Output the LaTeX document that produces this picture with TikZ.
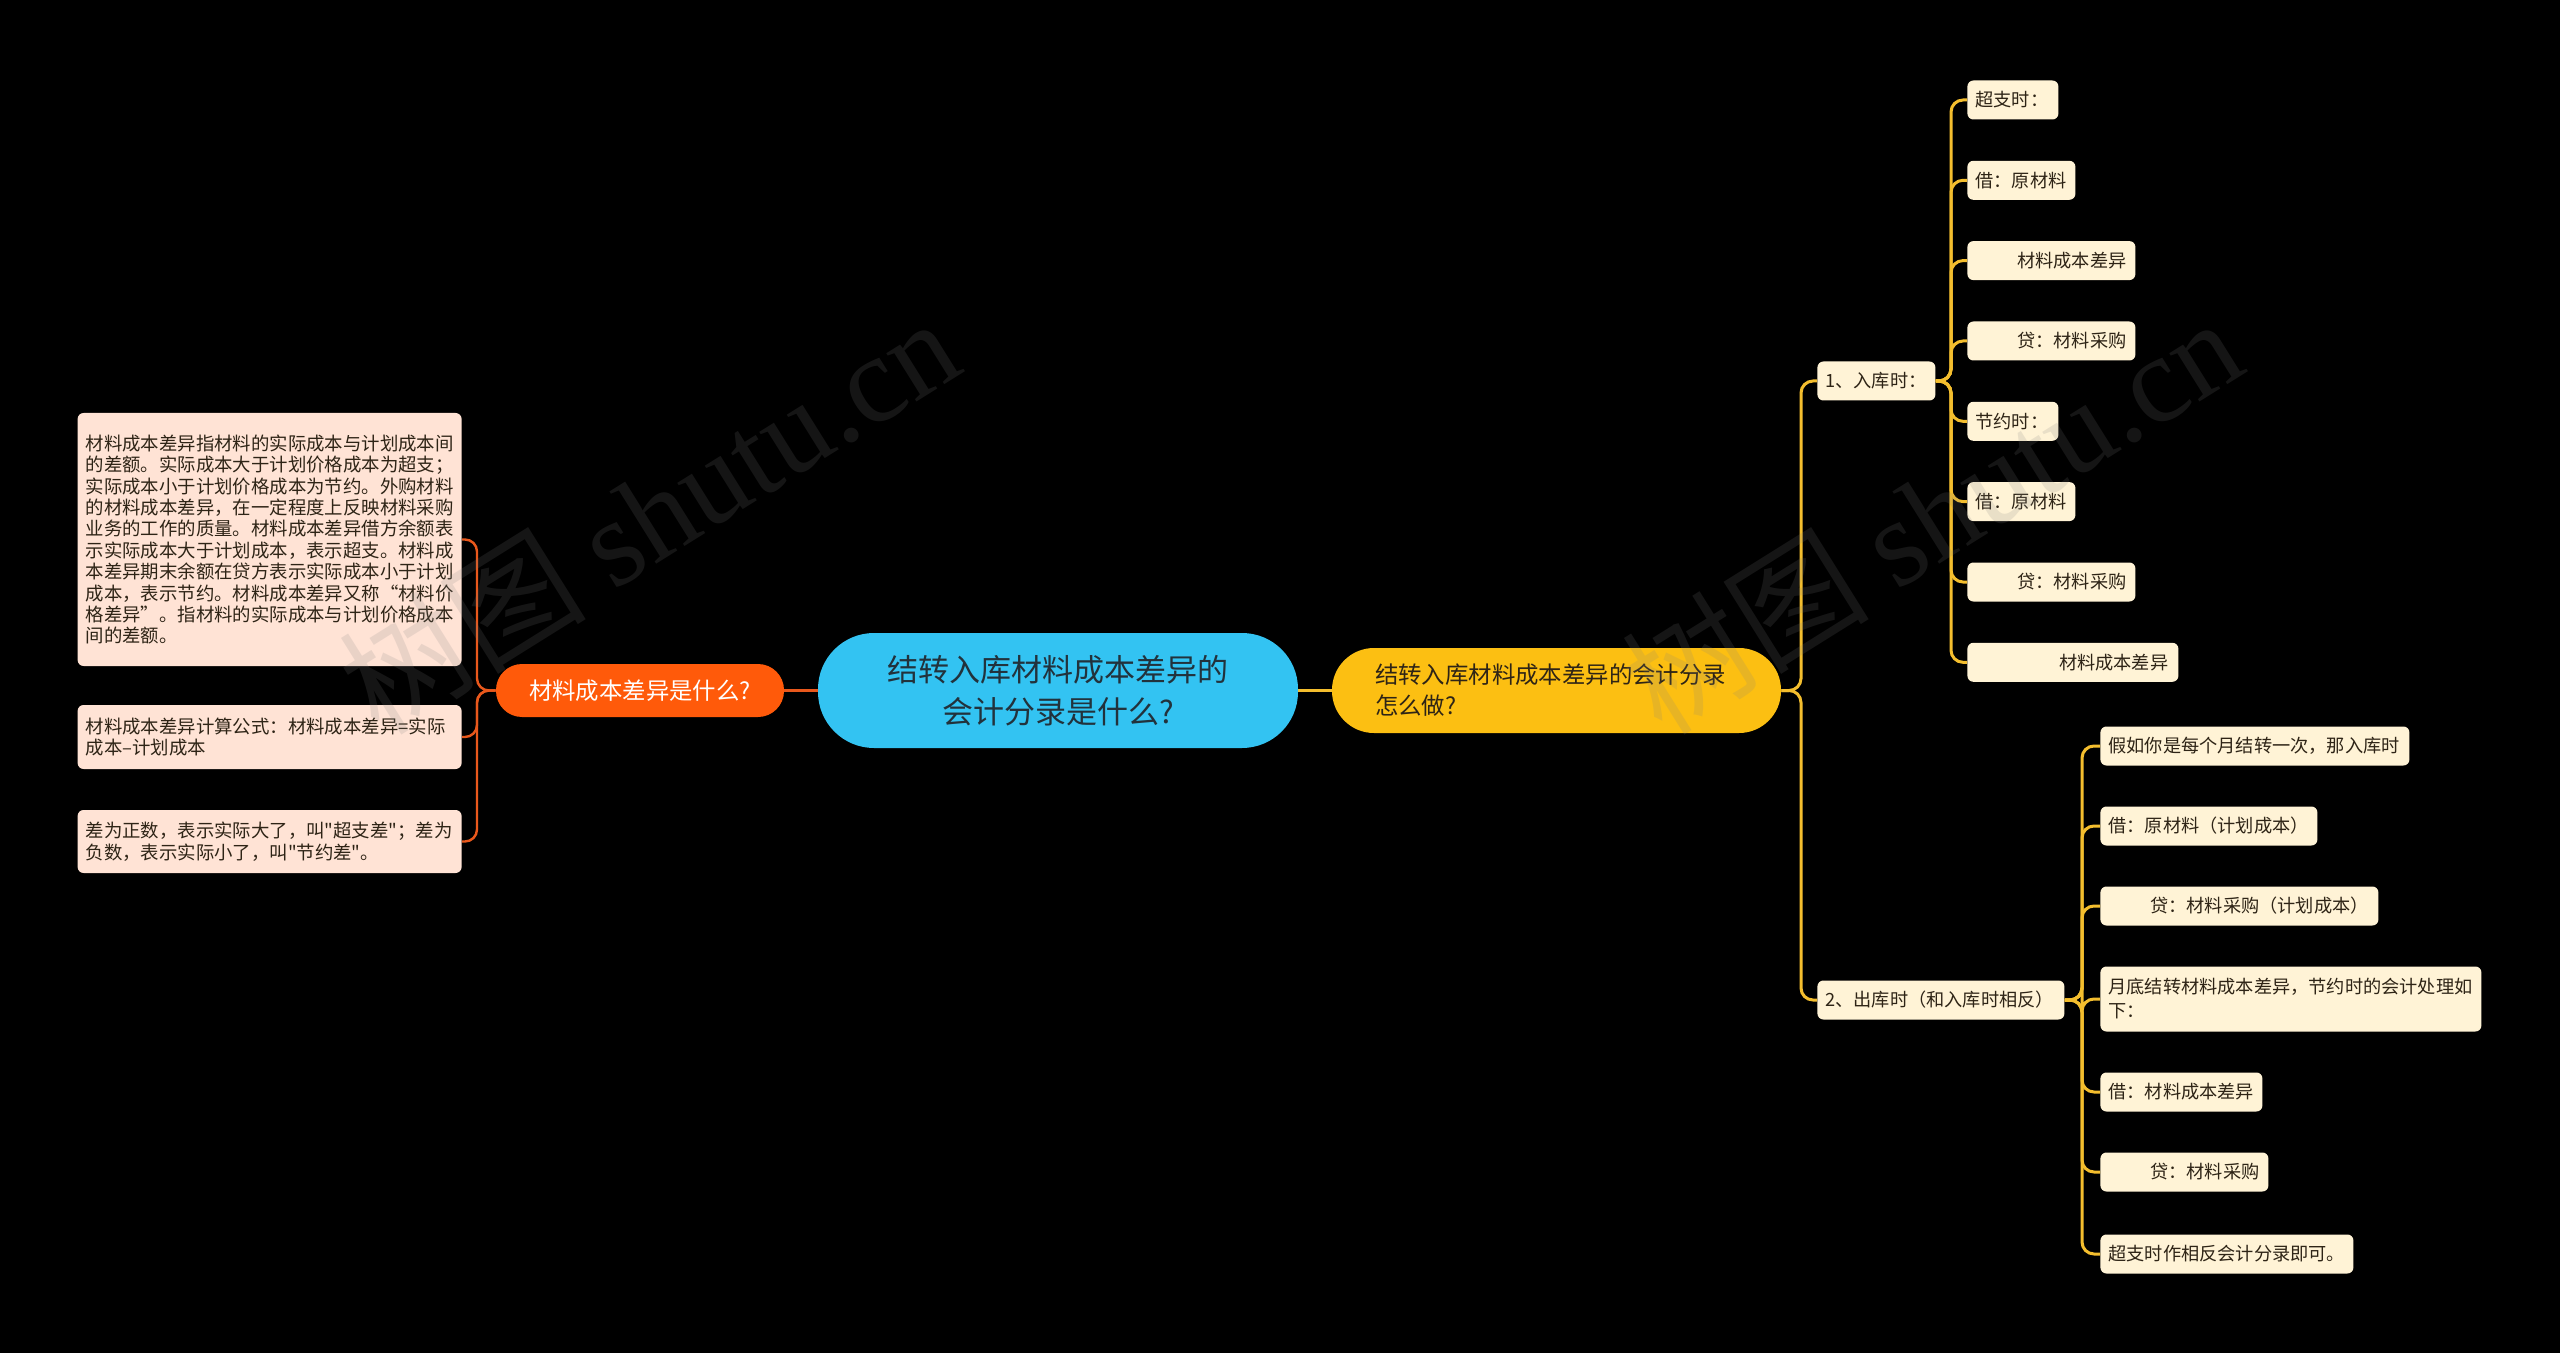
\documentclass[tikz,border=0pt]{standalone}
\usepackage{fontspec}
\setmainfont{Noto Sans CJK SC}[Ligatures=TeXOff]
\newfontfamily\wmserif{Liberation Serif}
\definecolor{cyanc}{HTML}{33C3F2}
\definecolor{orangec}{HTML}{FF5A0A}
\definecolor{yellowc}{HTML}{FCBF12}
\definecolor{creamc}{HTML}{FFF3D6}
\definecolor{peachc}{HTML}{FFE3D5}
\definecolor{linec}{HTML}{F4BE2E}
\definecolor{olinec}{HTML}{E9581C}
\definecolor{txtc}{HTML}{2E2416}
\definecolor{ctxt}{HTML}{22323C}
\definecolor{wmc}{HTML}{808080}
\begin{document}
\begin{tikzpicture}[x=0.5pt,y=-0.5pt,
  leafR/.style={fill=creamc, rounded corners=3pt, inner xsep=4pt, inner ysep=0pt,
    anchor=west, align=left, font=\fontsize{9.1pt}{12pt}\selectfont, text=txtc,
    minimum height=19.5pt, text width=#1},
  leafL/.style={fill=peachc, rounded corners=3pt, inner xsep=4pt, inner ysep=3pt,
    anchor=east, align=left, font=\fontsize{9.2pt}{10.7pt}\selectfont, text=txtc,
    text width=184pt},
  conR/.style={draw=linec, line width=1.5pt, rounded corners=6pt},
  conL/.style={draw=olinec, line width=1.2pt, rounded corners=6pt},
  wmark/.style={text=wmc, opacity=0.17, rotate=32, font=\fontsize{62pt}{62pt}\selectfont}
]
\fill[black] (0,0) rectangle (2560,1353);
\useasboundingbox (0,0) rectangle (2560,1353);

% central nodes
\node[fill=cyanc, rounded corners=28pt, minimum width=240pt, minimum height=57.5pt,
  align=center, text=ctxt, font=\fontsize{15.5pt}{21.2pt}\selectfont, inner sep=0pt]
  (root) at (1058,690.5) {结转入库材料成本差异的\\会计分录是什么?};
\node[fill=orangec, rounded corners=13pt, minimum width=144pt, minimum height=26.5pt,
  text=white, font=\fontsize{11.7pt}{14pt}\selectfont, inner sep=0pt]
  (org) at (640,690.5) {材料成本差异是什么?};
\node[fill=yellowc, rounded corners=21pt, minimum height=42.5pt, inner xsep=21.5pt,
  inner ysep=0pt, text width=181.5pt, align=left, text=txtc,
  font=\fontsize{11.7pt}{15.5pt}\selectfont]
  (yel) at (1556.5,690.5) {结转入库材料成本差异的会计分录\\怎么做?};

\draw[olinec, line width=1.2pt] (org.east) -- (root.west);
\draw[linec, line width=1.5pt] (root.east) -- (yel.west);

% left leaves
\node[leafL, minimum height=126.5pt] (l1) at (462,539.5) {材料成本差异指材料的实际成本与计划成本间\\的差额。实际成本大于计划价格成本为超支；\\实际成本小于计划价格成本为节约。外购材料\\的材料成本差异，在一定程度上反映材料采购\\业务的工作的质量。材料成本差异借方余额表\\示实际成本大于计划成本，表示超支。材料成\\本差异期末余额在贷方表示实际成本小于计划\\成本，表示节约。材料成本差异又称“材料价\\格差异”。指材料的实际成本与计划价格成本\\间的差额。};
\node[leafL, minimum height=32pt] (l2) at (462,737) {材料成本差异计算公式：材料成本差异=实际\\成本–计划成本};
\node[leafL, minimum height=31.5pt] (l3) at (462,841.5) {差为正数，表示实际大了，叫"超支差"；差为\\负数，表示实际小了，叫"节约差"。};

\coordinate (jl) at (477,690.5);
\foreach \n in {l1,l2,l3} \draw[conL] (org.west) -- (jl) |- (\n.east);

% right level 2
\node[leafR=51pt] (n1) at (1817,381) {1、入库时：};
\node[leafR=115.5pt] (n2) at (1817,1000) {2、出库时（和入库时相反）};
\coordinate (jy) at (1801,690.5);
\draw[conR] (yel.east) -- (jy) |- (n1.west);
\draw[conR] (yel.east) -- (jy) |- (n2.west);

% group 1
\node[leafR=37.5pt] (a1) at (1967,100) {超支时：};
\node[leafR=46pt] (a2) at (1967,180.3) {借：原材料};
\node[leafR=76pt] (a3) at (1967,260.6) {\hspace*{2.3em}材料成本差异};
\node[leafR=76pt] (a4) at (1967,341) {\hspace*{2.3em}贷：材料采购};
\node[leafR=37.5pt] (a5) at (1967,421.3) {节约时：};
\node[leafR=46pt] (a6) at (1967,501.6) {借：原材料};
\node[leafR=76pt] (a7) at (1967,582) {\hspace*{2.3em}贷：材料采购};
\node[leafR=97.5pt] (a8) at (1967,662.3) {\hspace*{4.6em}材料成本差异};
\coordinate (j1) at (1951,381);
\foreach \n in {a1,a2,a3,a4,a5,a6,a7,a8} \draw[conR] (n1.east) -- (j1) |- (\n.west);

% group 2
\node[leafR=146.5pt] (b1) at (2100,746) {假如你是每个月结转一次，那入库时};
\node[leafR=100.5pt] (b2) at (2100,826) {借：原材料（计划成本）};
\node[leafR=131pt] (b3) at (2100,906) {\hspace*{2.3em}贷：材料采购（计划成本）};
\node[leafR=182.5pt, minimum height=32.5pt] (b4) at (2100,999) {月底结转材料成本差异，节约时的会计处理如\\下：};
\node[leafR=73pt] (b5) at (2100,1092) {借：材料成本差异};
\node[leafR=76pt] (b6) at (2100,1172) {\hspace*{2.3em}贷：材料采购};
\node[leafR=118.5pt] (b7) at (2100,1254) {超支时作相反会计分录即可。};
\coordinate (j2) at (2082,1000);
\foreach \n in {b1,b2,b3,b4,b5,b6,b7} \draw[conR] (n2.east) -- (j2) |- (\n.west);

% watermarks
\node[wmark] (w1) at (648,514) {树图 {\wmserif shutu.cn}};
\node[wmark] (w2) at (1931,514) {树图 {\wmserif shutu.cn}};
\end{tikzpicture}
\end{document}
